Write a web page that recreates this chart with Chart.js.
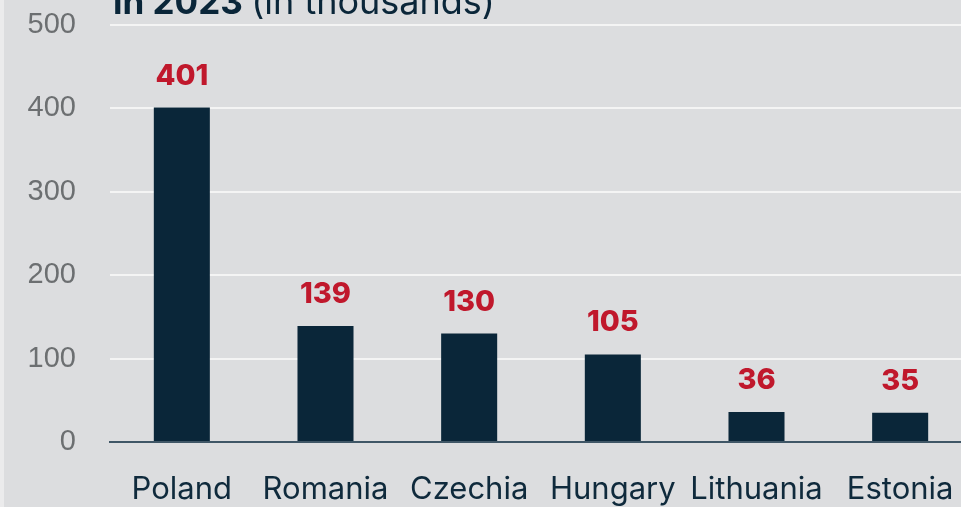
<!DOCTYPE html>
<html lang="en">
<head>
  <meta charset="UTF-8">
  <title>Thousands in 2023</title>
  <script src="https://cdn.jsdelivr.net/npm/chart.js"></script>
  <style>
    html, body {
      margin: 0;
      padding: 0;
      background: #dcdddf;
      overflow: hidden;
    }
    #wrap {
      position: relative;
      width: 961px;
      height: 507px;
      overflow: hidden;
    }
    #wrap::before {
      content: "";
      position: absolute;
      left: 0; top: 0;
      width: 4px; height: 507px;
      background: #ebebec;
      z-index: 1;
    }
    canvas { display: block; }
  </style>
</head>
<body>
  <div id="wrap">
    <!-- the plot runs a little past the right edge, like the original crop -->
    <canvas id="grafico" width="972" height="507"></canvas>
  </div>

  <script>
    const paises = ["Poland", "Romania", "Czechia", "Hungary", "Lithuania", "Estonia"];
    const valores = [401, 139, 130, 105, 36, 35];
    const ticksY = [0, 100, 200, 300, 400, 500];

    const corBarra = "#0a2639";
    const corValor = "#c0182c";
    const fonteTexto = "Inter, sans-serif";

    // title, only its lower part shows at the top edge
    const tituloPlugin = {
      id: "titulo",
      afterDraw(chart) {
        const ctx = chart.ctx;
        ctx.save();
        ctx.fillStyle = "#0a2639";
        ctx.textBaseline = "alphabetic";
        ctx.textAlign = "left";
        ctx.font = "bold 35px " + fonteTexto;
        const parte1 = "in 2023 ";
        ctx.fillText(parte1, 113, 14);
        const w = ctx.measureText(parte1).width;
        ctx.font = "36px " + fonteTexto;
        ctx.fillText("(in thousands)", 113 + w, 14);
        ctx.restore();
      }
    };

    // red numbers above the bars
    const valoresPlugin = {
      id: "valores",
      afterDatasetsDraw(chart) {
        const ctx = chart.ctx;
        const meta = chart.getDatasetMeta(0);
        ctx.save();
        ctx.fillStyle = corValor;
        ctx.font = "800 29px " + fonteTexto;
        ctx.textAlign = "center";
        ctx.textBaseline = "alphabetic";
        meta.data.forEach((bar, i) => {
          ctx.fillText(String(valores[i]), bar.x, bar.y - 23);
        });
        ctx.restore();
      }
    };

    function desenhar() {
      const ctx = document.getElementById("grafico").getContext("2d");
      new Chart(ctx, {
        type: "bar",
        data: {
          labels: paises,
          datasets: [{
            data: valores,
            backgroundColor: corBarra,
            borderWidth: 0,
            barPercentage: 0.39,
            categoryPercentage: 1
          }]
        },
        options: {
          responsive: false,
          animation: false,
          layout: { padding: { top: 25, right: 0, left: 0, bottom: 0 } },
          plugins: {
            legend: { display: false },
            tooltip: { enabled: false }
          },
          scales: {
            x: {
              afterFit(scale) {
                scale.height = 65;
                scale.paddingLeft = 0;
                scale.paddingRight = 0;
              },
              grid: { display: false, drawTicks: false },
              border: { display: true, color: "#3f5666", width: 2 },
              ticks: {
                color: "#0f2a3c",
                padding: 29,
                maxRotation: 0,
                autoSkip: false,
                font: { family: fonteTexto, size: 31 }
              }
            },
            y: {
              min: 0,
              max: 500,
              afterFit(scale) {
                scale.width = 110;
                scale.paddingTop = 0;
                scale.paddingBottom = 0;
              },
              afterBuildTicks(scale) {
                scale.ticks = ticksY.map(v => ({ value: v }));
              },
              grid: { color: "#f4f4f4", lineWidth: 2, drawTicks: false },
              border: { display: false },
              ticks: {
                color: "#6c6f71",
                padding: 34,
                font: { family: "'Liberation Sans', Arial, sans-serif", size: 29 }
              }
            }
          }
        },
        plugins: [valoresPlugin, tituloPlugin]
      });
    }

    Promise.all([
      document.fonts.load("31px Inter"),
      document.fonts.load("800 29px Inter"),
      document.fonts.load("bold 35px Inter"),
      document.fonts.load("29px 'Liberation Sans'")
    ]).then(desenhar, desenhar);
  </script>
</body>
</html>
